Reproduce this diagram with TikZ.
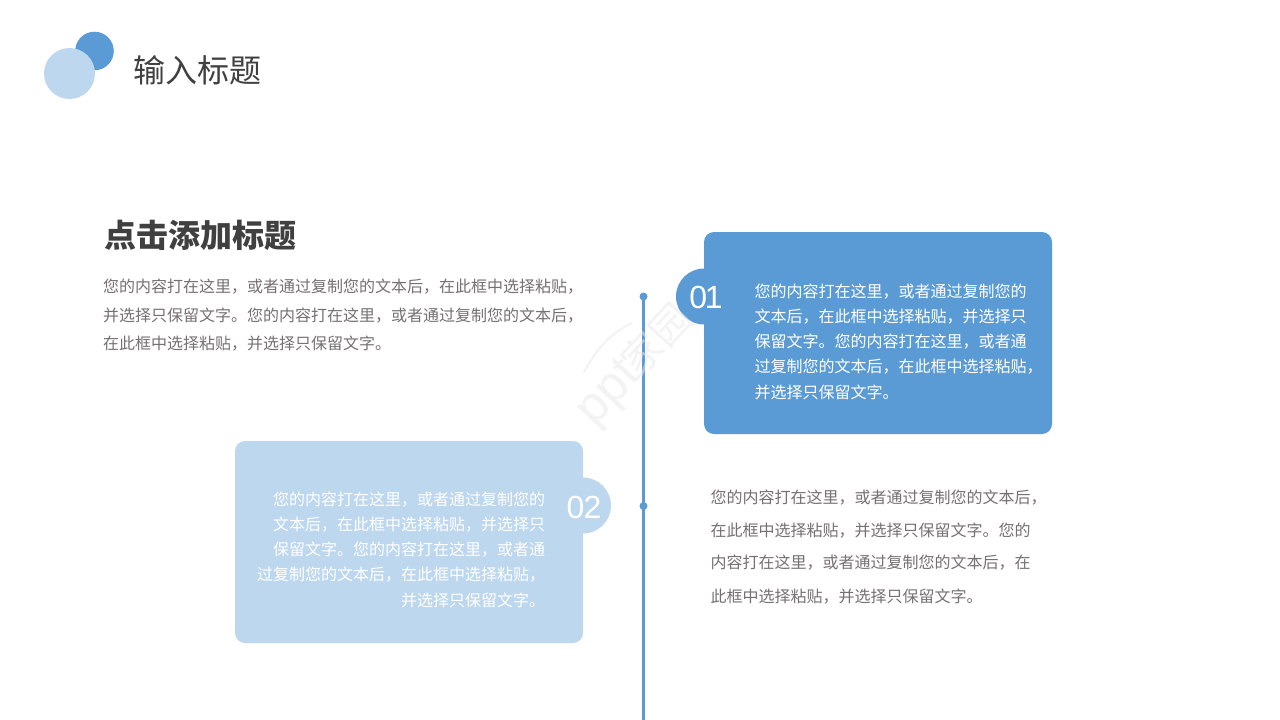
\documentclass[tikz,border=0pt]{standalone}
\usepackage{fontspec}
\setmainfont{Noto Sans CJK SC}
\setsansfont{Liberation Sans}
\definecolor{bluedark}{HTML}{5B9BD5}
\definecolor{bluelight}{HTML}{BDD7EE}
\definecolor{bodygray}{HTML}{767171}
\definecolor{titlegray}{HTML}{404040}
\definecolor{markgray}{HTML}{E9E9E9}
\tikzset{
  every node/.style={inner sep=0pt,outer sep=0pt},
  bodyline/.style={anchor=west,font=\fontsize{16}{16}\selectfont,text=bodygray},
  whiteline/.style={anchor=west,font=\fontsize{16}{16}\selectfont,text=white},
  whiteright/.style={anchor=east,font=\fontsize{16}{16}\selectfont,text=white},
  numlabel/.style={font=\sffamily\fontsize{32}{32}\selectfont,text=white},
  dot/.style={circle,fill=bluedark,minimum size=8pt},
  watermark/.style={text=markgray,text opacity=0.5,rotate=47},
}
\begin{document}
\begin{tikzpicture}[x=1pt,y=-1pt]
\useasboundingbox (0,0) rectangle (1280,720);
\fill[white] (0,0) rectangle (1280,720);
% logo
\fill[bluedark] (94.5,51) circle (19.3);
\fill[bluelight] (69.5,73.5) circle (25.5);
\node[anchor=west,font=\fontsize{32}{32}\selectfont,text=titlegray] (maintitle) at (133,70) {输入标题};
% left heading
\node[anchor=west,font=\fontsize{32}{32}\bfseries\selectfont,text=titlegray] (heading) at (104,235) {点击添加标题};
\node[bodyline] (a1) at (103,287) {您的内容打在这里，或者通过复制您的文本后，在此框中选择粘贴，};
\node[bodyline] (a2) at (103,316) {并选择只保留文字。您的内容打在这里，或者通过复制您的文本后，};
\node[bodyline] (a3) at (103,344) {在此框中选择粘贴，并选择只保留文字。};
% timeline
\coordinate (lineend) at (643.5,720);
\node[dot] (dot1) at (643.5,296.5) {};
\node[dot] (dot2) at (643.5,506) {};
\draw[bluedark,line width=2.6pt] (dot1.center) -- (lineend);
% box 1
\fill[bluedark] (704,296.5) circle (28);
\fill[bluedark,rounded corners=10pt] (704,232) rectangle (1052,434);
\node[numlabel] (n1) at (706,297) {0\kern-2.5pt 1};
\node[whiteline] (b1) at (754.5,292) {您的内容打在这里，或者通过复制您的};
\node[whiteline] (b2) at (754.5,317) {文本后，在此框中选择粘贴，并选择只};
\node[whiteline] (b3) at (754.5,342) {保留文字。您的内容打在这里，或者通};
\node[whiteline] (b4) at (754.5,367) {过复制您的文本后，在此框中选择粘贴，};
\node[whiteline] (b5) at (754.5,392.5) {并选择只保留文字。};
% box 2
\fill[bluelight] (583,505.5) circle (28);
\fill[bluelight,rounded corners=10pt] (235,441) rectangle (583,643);
\node[numlabel] (n2) at (584,507) {0\kern-1pt 2};
\node[whiteright] (c1) at (545,500) {您的内容打在这里，或者通过复制您的};
\node[whiteright] (c2) at (545,525) {文本后，在此框中选择粘贴，并选择只};
\node[whiteright] (c3) at (545,550) {保留文字。您的内容打在这里，或者通};
\node[whiteright] (c4) at (545,575) {过复制您的文本后，在此框中选择粘贴，};
\node[whiteright] (c5) at (545,600.5) {并选择只保留文字。};
% right text
\node[bodyline] (d1) at (710.5,498) {您的内容打在这里，或者通过复制您的文本后，};
\node[bodyline] (d2) at (710.5,531) {在此框中选择粘贴，并选择只保留文字。您的};
\node[bodyline] (d3) at (710.5,563) {内容打在这里，或者通过复制您的文本后，在};
\node[bodyline] (d4) at (710.5,596.5) {此框中选择粘贴，并选择只保留文字。};
% watermark
\node[watermark] (mark) at (636,366) {{\sffamily\fontsize{50}{50}\selectfont ppt}{\fontsize{40}{40}\selectfont\kern-3pt 家园}};
\draw[markgray,opacity=0.5,line width=2pt,line cap=round] (584,372) .. controls (596,350) and (610,333) .. (632,323);
\end{tikzpicture}
\end{document}
